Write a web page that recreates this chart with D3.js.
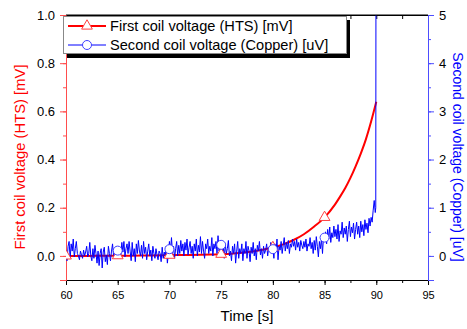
<!DOCTYPE html>
<html>
<head>
<meta charset="utf-8">
<script src="https://cdn.jsdelivr.net/npm/d3@7"></script>
<style>
  body { margin: 0; background: #fff; }
  svg { display: block; font-family: "Liberation Sans", Arial, sans-serif; }
</style>
</head>
<body>
<svg id="chart" width="467" height="329"></svg>
<script>
// HTS coil voltage [mV]
let htsTime = [60, 62, 64, 66, 68, 70, 72, 74, 75, 76, 77, 78, 79, 80, 81, 82, 83, 84, 85, 86, 86.5, 87, 87.5, 88, 88.5, 89, 89.5, 90]
let htsValue = [0.0, 0.0, 0.001, 0.001, 0.002, 0.003, 0.004, 0.006, 0.007, 0.009, 0.013, 0.018, 0.026, 0.035, 0.048, 0.066, 0.09, 0.122, 0.16, 0.213, 0.246, 0.282, 0.324, 0.372, 0.425, 0.485, 0.558, 0.64]
let htsMarkerTime = [60, 65, 70, 75, 80, 85]

// copper coil voltage [uV], sampled every 0.1 s from 60 s (one row per second)
let cuStart = 60
let cuStep = 0.1
let cuValue = [
  0.05, -0.10, 0.20, 0.30, -0.05, 0.25, 0.10, 0.35, -0.02, 0.15,
  0.30, 0.05, 0.00, -0.08, 0.10, 0.02, -0.05, 0.12, 0.00, 0.08,
  0.20, -0.02, 0.05, 0.28, 0.00, -0.10, 0.15, -0.05, 0.22, 0.05,
  -0.15, 0.10, -0.20, 0.05, 0.15, -0.25, 0.08, 0.18, -0.12, 0.02,
  -0.18, 0.20, 0.05, -0.10, 0.10, 0.25, 0.00, -0.05, 0.15, 0.05,
  -0.05, 0.20, 0.10, 0.00, 0.28, 0.08, 0.30, -0.02, 0.15, 0.25,
  0.05, 0.30, 0.10, -0.10, 0.28, 0.00, 0.15, -0.12, 0.25, 0.05,
  0.32, 0.10, 0.00, 0.22, -0.05, 0.30, 0.05, 0.18, -0.08, 0.10,
  0.25, 0.00, 0.12, -0.10, 0.20, 0.05, -0.05, 0.15, 0.02, -0.08,
  0.10, 0.05, -0.12, 0.18, -0.05, 0.08, 0.00, 0.20, -0.15, 0.05,
  0.30, 0.10, 0.38, 0.05, 0.20, -0.05, 0.15, 0.30, 0.00, 0.22,
  0.05, 0.32, 0.10, 0.25, 0.00, 0.28, 0.12, 0.35, 0.02, 0.18,
  0.30, 0.05, 0.20, -0.05, 0.25, 0.10, 0.35, 0.00, 0.22, 0.08,
  0.40, 0.05, 0.30, 0.10, -0.05, 0.25, 0.15, 0.35, 0.05, 0.20,
  0.10, 0.38, 0.00, 0.25, 0.15, 0.30, 0.05, 0.42, 0.10, 0.22,
  0.30, 0.10, 0.20, -0.05, 0.25, 0.05, 0.15, 0.32, 0.00, 0.10,
  -0.10, 0.20, 0.05, 0.25, -0.15, 0.10, 0.30, -0.05, 0.15, 0.05,
  0.25, -0.10, 0.15, 0.05, 0.30, -0.05, 0.20, 0.10, -0.12, 0.18,
  0.05, 0.28, 0.00, 0.15, -0.08, 0.22, 0.10, 0.30, 0.02, 0.15,
  -0.05, 0.20, 0.05, 0.12, 0.25, 0.00, 0.18, 0.08, 0.28, 0.10,
  0.15, -0.05, 0.25, 0.10, 0.35, -0.08, 0.20, 0.12, 0.30, 0.05,
  0.22, 0.38, 0.10, 0.28, 0.15, 0.32, 0.05, 0.25, 0.18, 0.35,
  0.20, 0.30, 0.12, 0.35, 0.18, 0.28, 0.10, 0.32, 0.22, 0.15,
  0.30, 0.18, 0.35, 0.10, 0.25, 0.20, 0.38, 0.15, 0.28, 0.05,
  0.32, 0.12, 0.40, 0.20, -0.02, 0.30, 0.15, 0.35, 0.05, 0.42,
  0.30, 0.50, 0.25, 0.55, 0.35, 0.60, 0.28, 0.48, 0.38, 0.62,
  0.40, 0.55, 0.35, 0.65, 0.30, 0.52, 0.45, 0.70, 0.38, 0.58,
  0.45, 0.62, 0.30, 0.55, 0.72, 0.40, 0.60, 0.48, 0.68, 0.35,
  0.55, 0.70, 0.45, 0.62, 0.38, 0.72, 0.50, 0.65, 0.42, 0.75,
  0.55, 0.68, 0.48, 0.78, 0.62, 0.80, 0.70, 0.95, 1.15, 0.90
]
// quench spike that leaves the top of the plot
let cuSpikeTime = [89.95, 89.97]
let cuSpikeValue = [1.0, 6.0]
let cuMarkerTime = [65, 70, 75, 80, 85]
let cuMarkerValue = [0.11, 0.14, 0.23, 0.14, 0.38]

let xTicks = [60, 65, 70, 75, 80, 85, 90, 95]
let leftTicks = [0.0, 0.2, 0.4, 0.6, 0.8, 1.0]
let rightTicks = [0, 1, 2, 3, 4, 5]

let redColor = '#ff0000'
let blueColor = '#0000ff'

let svg = d3.select('#chart')

let plotLeft = 66, plotRight = 428, plotTop = 15, plotBottom = 280

let x = d3.scaleLinear().domain([60, 95]).range([plotLeft, plotRight])
let yL = d3.scaleLinear().domain([-0.1, 1.0]).range([plotBottom, plotTop])
let yR = d3.scaleLinear().domain([-0.5, 5]).range([plotBottom, plotTop])

svg.append('clipPath').attr('id', 'plotClip')
  .append('rect').attr('x', plotLeft).attr('y', plotTop)
  .attr('width', plotRight - plotLeft).attr('height', plotBottom - plotTop)

// axes
let styleAxis = (g, color, size) => {
  g.select('.domain').attr('stroke', color).attr('stroke-width', 1)
  g.selectAll('.tick line').attr('stroke', color)
  g.selectAll('.tick text').attr('fill', '#000').attr('font-size', size)
}

let minorX = d3.range(60, 95.01, 2.5)

svg.append('g').attr('transform', 'translate(0,' + plotBottom + ')')
  .call(d3.axisBottom(x).tickValues(minorX).tickSize(3).tickFormat(''))
  .call(g => styleAxis(g, '#000', 11))
svg.append('g').attr('transform', 'translate(0,' + plotBottom + ')')
  .call(d3.axisBottom(x).tickValues(xTicks).tickSize(5).tickPadding(6).tickFormat(d3.format('d')))
  .call(g => styleAxis(g, '#000', 11))

svg.append('g').attr('transform', 'translate(0,' + plotTop + ')')
  .call(d3.axisBottom(x).tickValues(minorX).tickSize(4).tickFormat(''))
  .call(g => styleAxis(g, '#000', 11))

svg.append('g').attr('transform', 'translate(' + plotLeft + ',0)')
  .call(d3.axisLeft(yL).tickValues(d3.range(-0.1, 1.001, 0.1)).tickSize(3).tickFormat(''))
  .call(g => styleAxis(g, '#ff4d4d', 13))
svg.append('g').attr('transform', 'translate(' + plotLeft + ',0)')
  .call(d3.axisLeft(yL).tickValues(leftTicks).tickSize(6).tickPadding(5).tickFormat(d3.format('.1f')))
  .call(g => styleAxis(g, '#ff4d4d', 13))

svg.append('g').attr('transform', 'translate(' + plotRight + ',0)')
  .call(d3.axisRight(yR).tickValues(d3.range(-0.5, 5.001, 0.5)).tickSize(3).tickFormat(''))
  .call(g => styleAxis(g, '#4d4dff', 13))
svg.append('g').attr('transform', 'translate(' + plotRight + ',0)')
  .call(d3.axisRight(yR).tickValues(rightTicks).tickSize(6).tickPadding(5).tickFormat(d3.format('d')))
  .call(g => styleAxis(g, '#4d4dff', 13))

// series
let plot = svg.append('g').attr('clip-path', 'url(#plotClip)')

let htsData = htsTime.map((t, i) => [t, htsValue[i]])
let cuData = cuValue.map((v, i) => [cuStart + i * cuStep, v])
cuSpikeTime.forEach((t, i) => cuData.push([t, cuSpikeValue[i]]))

plot.append('path')
  .datum(htsData)
  .attr('fill', 'none').attr('stroke', redColor).attr('stroke-width', 2)
  .attr('d', d3.line().x(d => x(d[0])).y(d => yL(d[1])).curve(d3.curveMonotoneX))

plot.append('path')
  .datum(cuData)
  .attr('fill', 'none').attr('stroke', blueColor).attr('stroke-width', 1)
  .attr('d', d3.line().x(d => x(d[0])).y(d => yR(d[1])))

let interpHts = t => {
  let i = d3.bisectLeft(htsTime, t)
  if (htsTime[i] === t) return htsValue[i]
  let t0 = htsTime[i - 1], t1 = htsTime[i]
  return htsValue[i - 1] + (htsValue[i] - htsValue[i - 1]) * (t - t0) / (t1 - t0)
}

let triangle = d3.symbol().type(d3.symbolTriangle).size(50)

plot.selectAll('.hts-marker')
  .data(htsMarkerTime)
  .enter()
  .append('path')
  .attr('class', 'hts-marker')
  .attr('d', triangle)
  .attr('transform', t => 'translate(' + x(t) + ',' + yL(interpHts(t)) + ')')
  .attr('fill', '#fff').attr('stroke', '#ff4040').attr('stroke-width', 1)

plot.selectAll('.cu-marker')
  .data(cuMarkerTime)
  .enter()
  .append('circle')
  .attr('class', 'cu-marker')
  .attr('cx', t => x(t))
  .attr('cy', (t, i) => yR(cuMarkerValue[i]))
  .attr('r', 4.5)
  .attr('fill', '#fff').attr('stroke', '#4040ff').attr('stroke-width', 1)

// top frame line
svg.append('line').attr('x1', plotLeft).attr('x2', plotRight).attr('y1', plotTop).attr('y2', plotTop).attr('stroke', '#000')

// legend
let legend = svg.append('g')
legend.append('rect').attr('x', 67).attr('y', 20).attr('width', 283).attr('height', 38).attr('fill', '#000')
legend.append('rect').attr('x', 63.5).attr('y', 16.5).attr('width', 283).attr('height', 37)
  .attr('fill', '#fff').attr('stroke', '#888').attr('stroke-width', 1)

let legendRows = [
  { label: 'First coil voltage (HTS) [mV]', color: redColor, mark: '#ff4040', width: 2, y: 26, symbol: 'tri' },
  { label: 'Second coil voltage (Copper) [uV]', color: blueColor, mark: '#4040ff', width: 1, y: 45, symbol: 'circle' }
]

legendRows.forEach(row => {
  legend.append('line').attr('x1', 68).attr('x2', 106).attr('y1', row.y).attr('y2', row.y)
    .attr('stroke', row.color).attr('stroke-width', row.width)
  if (row.symbol === 'tri') {
    legend.append('path').attr('d', triangle).attr('transform', 'translate(87,' + row.y + ')')
      .attr('fill', '#fff').attr('stroke', row.mark)
  } else {
    legend.append('circle').attr('cx', 87).attr('cy', row.y).attr('r', 4.5)
      .attr('fill', '#fff').attr('stroke', row.mark)
  }
  legend.append('text').attr('x', 110).attr('y', row.y + 5).attr('font-size', 14.6).text(row.label)
})

// axis titles
svg.append('text').attr('x', (plotLeft + plotRight) / 2).attr('y', 321).attr('text-anchor', 'middle')
  .attr('font-size', 15).text('Time [s]')

svg.append('text').attr('transform', 'translate(25,157) rotate(-90)').attr('text-anchor', 'middle')
  .attr('font-size', 14.8).attr('fill', redColor).text('First coil voltage (HTS) [mV]')

svg.append('text').attr('transform', 'translate(453,157) rotate(90)').attr('text-anchor', 'middle')
  .attr('font-size', 14).attr('fill', blueColor).text('Second coil voltage (Copper) [uV]')
</script>
</body>
</html>
